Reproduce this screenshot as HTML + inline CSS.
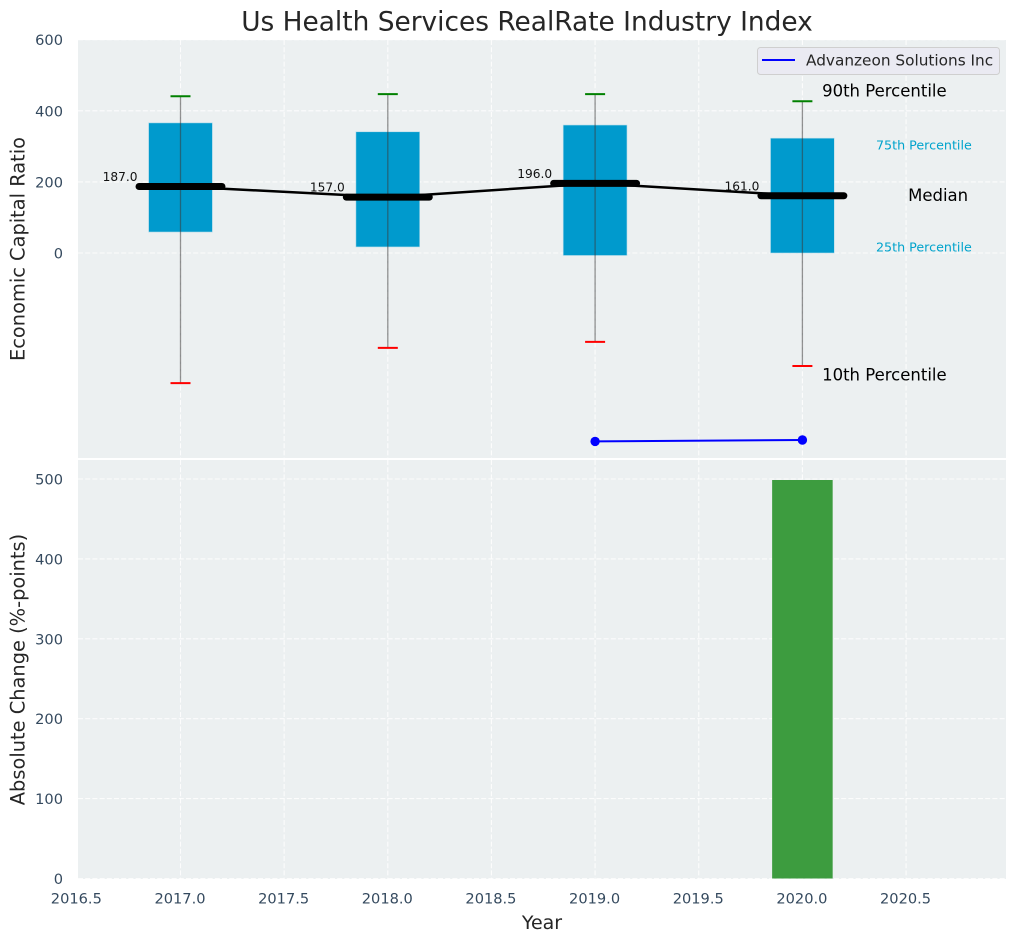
<!DOCTYPE html>
<html>
<head>
<meta charset="utf-8">
<title>Us Health Services RealRate Industry Index</title>
<style>
html,body{margin:0;padding:0;background:#fff;width:1016px;height:942px;overflow:hidden}
svg{display:block}
text{font-family:"DejaVu Sans","Liberation Sans",sans-serif}
</style>
</head>
<body>
<svg id="chart" xmlns="http://www.w3.org/2000/svg" width="1016" height="942" viewBox="0 0 1016 942"></svg>
<script>
const years = [2017, 2018, 2019, 2020];
const p90 = [441, 447, 447, 427];
const p75 = [366, 341, 360, 323];
const medians = [187, 157, 196, 161];
const p25 = [59, 17, -7, 0];
const p10 = [-366, -267, -250, -318];
const companyYears = [2019, 2020];
const companyValues = [-530, -526];
const changeYears = [2020];
const changeValues = [500];
const xTicks = [2016.5, 2017, 2017.5, 2018, 2018.5, 2019, 2019.5, 2020, 2020.5];
const xTickLabels = ['2016.5', '2017.0', '2017.5', '2018.0', '2018.5', '2019.0', '2019.5', '2020.0', '2020.5'];
const topTicks = [0, 200, 400, 600];
const bottomTicks = [0, 100, 200, 300, 400, 500];

const svg = document.getElementById('chart');
const NS = 'http://www.w3.org/2000/svg';
const L = 78, R = 1006;
const xScale = v => 180.5 + (v - 2017) * 207.3;
const yTop = v => 253 - v * 0.3555;
const yBottom = v => 878.5 - v * 0.799;

function add(tag, props, parent) {
  const el = document.createElementNS(NS, tag);
  for (const k in props) el.setAttribute(k, props[k]);
  (parent || svg).appendChild(el);
  return el;
}
function label(str, x, y, size, fill, anchor, parent) {
  const el = add('text', {x: x, y: y, 'font-size': size, fill: fill, 'text-anchor': anchor || 'start', 'dominant-baseline': 'central'}, parent);
  el.textContent = str;
  return el;
}
function grid(x1, y1, x2, y2, parent) {
  return add('line', {x1: x1, y1: y1, x2: x2, y2: y2, stroke: '#fff', 'stroke-width': 1.1, 'stroke-dasharray': '5 2.2', opacity: 0.85}, parent);
}

const title = label('Us Health Services RealRate Industry Index', 527, 22, 26.4, '#262626', 'middle');



const bgTop = add('rect', {x: L, y: 40, width: R - L, height: 418, fill: '#ecf0f1'});


const bgBottom = add('rect', {x: L, y: 460, width: R - L, height: 419, fill: '#ecf0f1'});



const gridGroup = add('g', {});


xTicks.forEach(t => {
  grid(xScale(t), 40, xScale(t), 458, gridGroup);
  grid(xScale(t), 460, xScale(t), 879, gridGroup);
});
topTicks.forEach(t => grid(L, yTop(t), R, yTop(t), gridGroup));
bottomTicks.forEach(t => grid(L, yBottom(t), R, yBottom(t), gridGroup));

xTicks.forEach((t, i) => {
  const el = label(xTickLabels[i], xScale(t) - 0.5, 899, 14.6, '#34495e', 'middle');
  
  
});
topTicks.forEach(t => {
  const el = label(String(t), 63, yTop(t) + 1, 14.6, '#34495e', 'end');
  
  
});
bottomTicks.forEach(t => {
  const el = label(String(t), 63, yBottom(t) + 1, 14.6, '#34495e', 'end');
  
  
});

const yl1 = label('Economic Capital Ratio', 0, 0, 19.4, '#262626', 'middle');
yl1.setAttribute('transform', 'translate(18 249) rotate(-90)');


const yl2 = label('Absolute Change (%-points)', 0, 0, 19.4, '#262626', 'middle');
yl2.setAttribute('transform', 'translate(18 669.5) rotate(-90)');


const xl = label('Year', 542, 923, 19, '#262626', 'middle');



years.forEach((yr, i) => {
  const cx = xScale(yr);
  const halfBox = (xScale(yr + 0.15) - cx) + 0.8;
  const box = add('rect', {x: cx - halfBox, y: yTop(p75[i]), width: halfBox * 2, height: yTop(p25[i]) - yTop(p75[i]), fill: '#009acd', stroke: '#b5dcea', 'stroke-width': 0.6});
  
  
  const whisker = add('line', {x1: cx, y1: yTop(p90[i]), x2: cx, y2: yTop(p10[i]), stroke: '#3a3a3a', 'stroke-opacity': 0.55, 'stroke-width': 1.3});
  
  
  const hi = add('line', {x1: cx - 10, y1: yTop(p90[i]), x2: cx + 10, y2: yTop(p90[i]), stroke: '#008000', 'stroke-width': 2});
  
  
  const lo = add('line', {x1: cx - 10, y1: yTop(p10[i]), x2: cx + 10, y2: yTop(p10[i]), stroke: '#ff0000', 'stroke-width': 2});
  
  
  const val = label(medians[i].toFixed(1), cx - 43, yTop(medians[i]) - 9.5, 12.2, '#111', 'end');
  
  
});

const medianPath = add('polyline', {points: years.map((yr, i) => xScale(yr) + ',' + yTop(medians[i])).join(' '), fill: 'none', stroke: '#000', 'stroke-width': 2.5});


years.forEach((yr, i) => {
  const seg = add('line', {x1: xScale(yr - 0.2), y1: yTop(medians[i]), x2: xScale(yr + 0.2), y2: yTop(medians[i]), stroke: '#000', 'stroke-width': 7, 'stroke-linecap': 'round'});
  
  
});

const companyLine = add('polyline', {points: companyYears.map((yr, i) => xScale(yr) + ',' + yTop(companyValues[i])).join(' '), fill: 'none', stroke: '#0000ff', 'stroke-width': 2});


companyYears.forEach((yr, i) => {
  const dot = add('circle', {cx: xScale(yr), cy: yTop(companyValues[i]), r: 4.7, fill: '#0000ff'});
  
  
});

changeYears.forEach((yr, i) => {
  const x0 = xScale(yr - 0.146), x1 = xScale(yr + 0.146);
  const bar = add('rect', {x: x0, y: yBottom(changeValues[i]) + 1, width: x1 - x0, height: yBottom(0) - yBottom(changeValues[i]) - 1, fill: '#3d9c3f'});
  
  
});

const lastYear = years.length - 1;
const a90 = label('90th Percentile', xScale(2020.095), yTop(p90[lastYear]) - 10, 16.5, '#000');


const a75 = label('75th Percentile', xScale(2020.355), yTop(p75[lastYear]) + 7, 12.7, '#00a3cc');


const aMed = label('Median', xScale(2020.51), yTop(medians[lastYear]) - 0.5, 16.5, '#000');


const a25 = label('25th Percentile', xScale(2020.355), yTop(p25[lastYear]) - 6, 12.7, '#00a3cc');


const a10 = label('10th Percentile', xScale(2020.095), yTop(p10[lastYear]) + 9, 16.5, '#000');



const legend = add('g', {});


add('rect', {x: 757.5, y: 47.5, width: 242, height: 27, rx: 3, fill: '#eaeaf2', stroke: '#cfcfcf', 'stroke-width': 1}, legend);
add('line', {x1: 762, y1: 60, x2: 795, y2: 60, stroke: '#0000ff', 'stroke-width': 2}, legend);
const legendText = label('Advanzeon Solutions Inc', 806, 60.5, 15.3, '#262626', 'start', legend);


</script>
</body>
</html>
